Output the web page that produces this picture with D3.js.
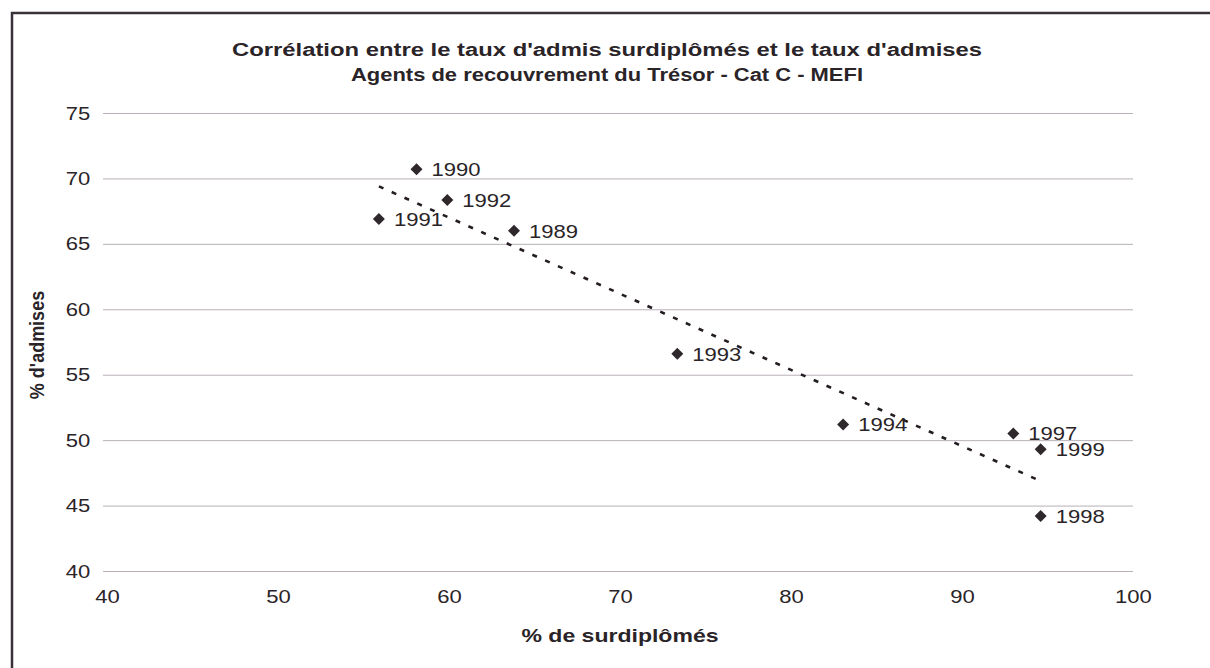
<script src="https://cdn.jsdelivr.net/npm/d3@7"></script>
<style>
  body { margin: 0; background: #fff; }
  svg { font-family: "Liberation Sans", Arial, sans-serif; }
</style>
<svg id="chart" width="1210" height="668"></svg>
<script>

// values
var years = ["1989", "1990", "1991", "1992", "1993", "1994", "1997", "1998", "1999"]
var surdiplomes = [63.8, 58.1, 55.9, 59.9, 73.35, 83.05, 93.0, 94.6, 94.6]
var admises = [66.0, 70.7, 66.9, 68.35, 56.6, 51.2, 50.5, 44.2, 49.3]
var xTicks = [40, 50, 60, 70, 80, 90, 100]
var yTicks = [40, 45, 50, 55, 60, 65, 70, 75]
var titleLines = [
  "Corrélation entre le taux d'admis surdiplômés et le taux d'admises",
  "Agents de recouvrement du Trésor - Cat C - MEFI"
]

var svg = d3.select('#chart')

var x = d3.scaleLinear().domain([40, 100]).range([107, 1133])
var y = d3.scaleLinear().domain([40, 75]).range([571, 113])

// the scan is a bit wider than tall, so text is stretched sideways
var stretch = 'scale(1.16,1)'

var points = years.map(function(d, i) {
  return { year: d, x: surdiplomes[i], y: admises[i] }
})

// frame (only top and left edges show in the scan)
svg.append('path')
  .attr('d', 'M12,668 V13 H1210')
  .attr('fill', 'none')
  .attr('stroke', '#3a3038')
  .attr('stroke-width', 2.5)

// title
svg.selectAll('.title')
  .data(titleLines)
  .enter().append('text')
  .attr('class', 'title')
  .attr('x', 607)
  .attr('y', function(d, i) { return 56 + i * 25 })
  .attr('text-anchor', 'middle')
  .attr('textLength', function(d, i) { return i == 0 ? 750 : 512 })
  .attr('lengthAdjust', 'spacingAndGlyphs')
  .style('font-size', '18px')
  .style('font-weight', 'bold')
  .style('fill', '#2a2428')
  .text(function(d) { return d })

// horizontal grid lines
svg.append('g')
  .attr('transform', 'translate(103,0)')
  .call(d3.axisLeft(y).tickValues(yTicks).tickSize(-(1133 - 103)).tickFormat(''))
  .call(function(g) { g.select('.domain').remove() })
  .selectAll('line')
  .attr('stroke', '#b9b0b9')
  .attr('stroke-width', 1)

// y tick labels
svg.append('g')
  .attr('transform', 'translate(103,0)')
  .call(d3.axisLeft(y).tickValues(yTicks).tickSize(0).tickPadding(11))
  .call(function(g) { g.select('.domain').remove() })
  .selectAll('text')
  .attr('transform', stretch)
  .style('font-size', '19px')
  .style('font-family', '"Liberation Sans", Arial, sans-serif')
  .style('fill', '#2a2428')

// x tick labels
svg.append('g')
  .attr('transform', 'translate(0,571)')
  .call(d3.axisBottom(x).tickValues(xTicks).tickSize(0).tickPadding(19))
  .call(function(g) { g.select('.domain').remove() })
  .selectAll('text')
  .attr('transform', stretch)
  .style('font-size', '19px')
  .style('font-family', '"Liberation Sans", Arial, sans-serif')
  .style('fill', '#2a2428')

// axis titles
svg.append('text')
  .attr('x', 620)
  .attr('y', 642)
  .attr('text-anchor', 'middle')
  .attr('textLength', 197)
  .attr('lengthAdjust', 'spacingAndGlyphs')
  .style('font-size', '19px')
  .style('font-weight', 'bold')
  .style('fill', '#2a2428')
  .text('% de surdiplômés')

svg.append('text')
  .attr('transform', 'translate(44,345) rotate(-90) scale(1,1.16)')
  .attr('text-anchor', 'middle')
  .style('font-size', '18px')
  .style('font-weight', 'bold')
  .style('fill', '#2a2428')
  .text("% d'admises")

// linear trend line (least squares, like the spreadsheet)
var mx = d3.mean(surdiplomes), my = d3.mean(admises)
var sxy = d3.sum(surdiplomes, function(v, i) { return (v - mx) * (admises[i] - my) })
var sxx = d3.sum(surdiplomes, function(v) { return (v - mx) * (v - mx) })
var slope = sxy / sxx
var inter = my - slope * mx
var ext = d3.extent(surdiplomes)

svg.append('line')
  .attr('x1', x(ext[0]))
  .attr('y1', y(inter + slope * ext[0]))
  .attr('x2', x(ext[1]))
  .attr('y2', y(inter + slope * ext[1]))
  .attr('stroke', '#231c22')
  .attr('stroke-width', 2.6)
  .attr('stroke-dasharray', '5,9')

// markers
svg.selectAll('.pt')
  .data(points)
  .enter().append('path')
  .attr('class', 'pt')
  .attr('d', d3.symbol().type(d3.symbolSquare).size(72))
  .attr('transform', function(d) { return 'translate(' + x(d.x) + ',' + y(d.y) + ') rotate(45)' })
  .attr('fill', '#2e282c')

// year labels
svg.selectAll('.lbl')
  .data(points)
  .enter().append('text')
  .attr('class', 'lbl')
  .attr('transform', function(d) { return 'translate(' + (x(d.x) + 15) + ',' + y(d.y) + ') ' + stretch })
  .attr('dy', '0.36em')
  .style('font-size', '19px')
  .style('fill', '#2a2428')
  .text(function(d) { return d.year })

</script>
